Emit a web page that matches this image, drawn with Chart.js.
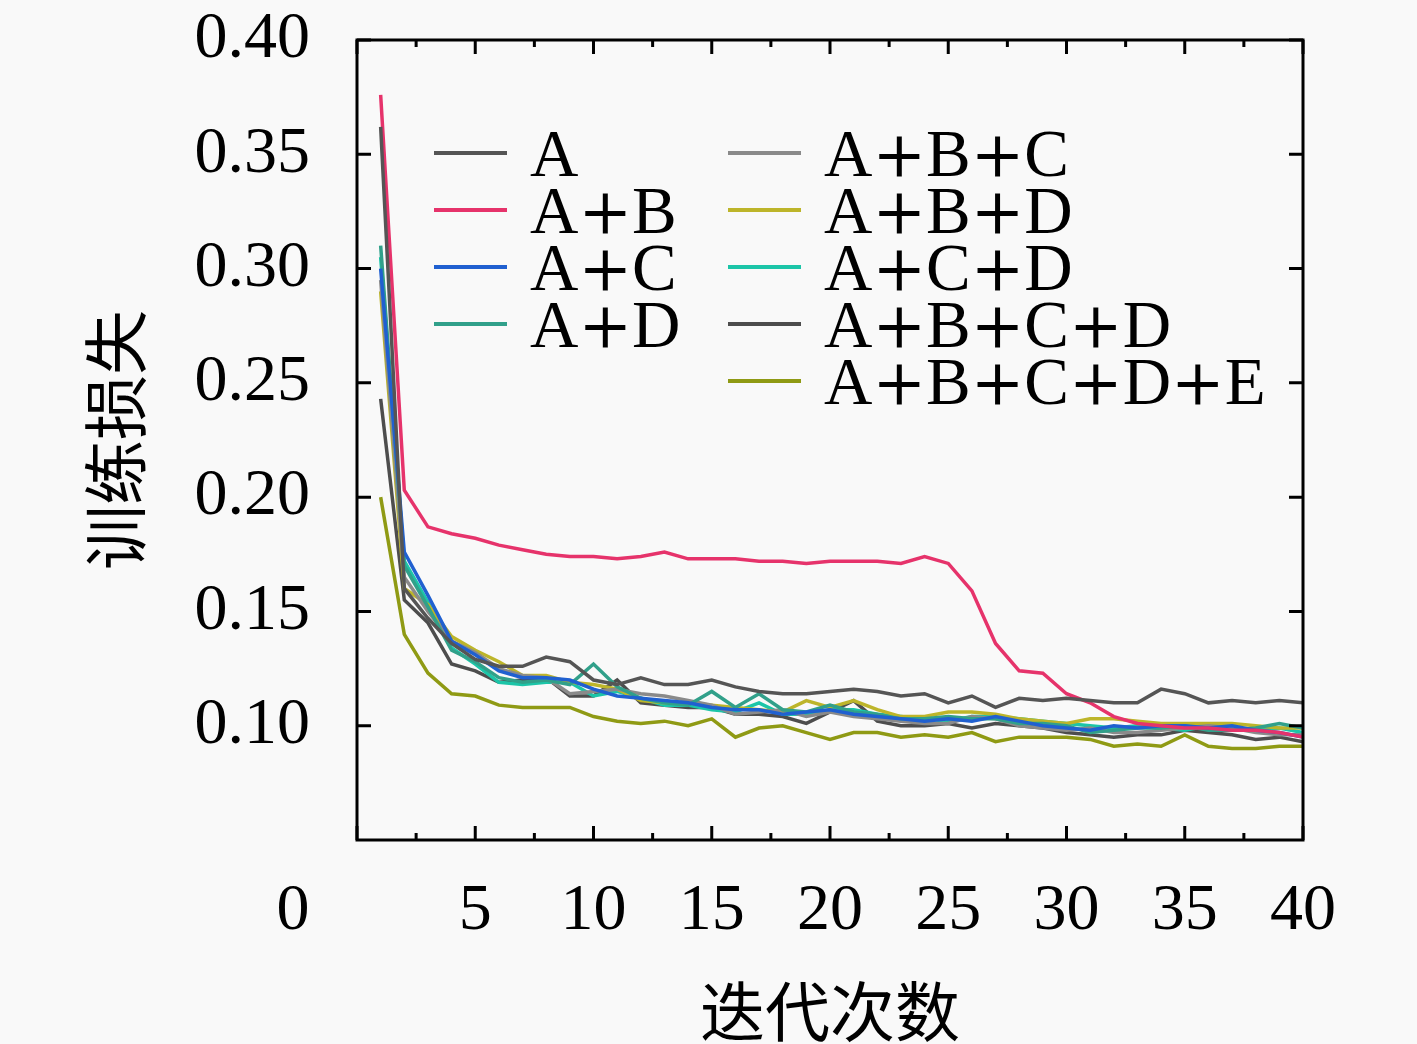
<!DOCTYPE html>
<html lang="zh">
<head>
<meta charset="utf-8">
<title>训练损失</title>
<script src="https://cdn.jsdelivr.net/npm/chart.js"></script>
<style>
  html, body { margin: 0; padding: 0; background: #f9f9f9; }
  #wrap { position: relative; width: 1417px; height: 1044px; }
  #legend { position: absolute; left: 0; top: 0; font-family: "Liberation Serif", serif; font-size: 67px; color: #000; }
  .item { position: absolute; display: flex; align-items: center; height: 66px; line-height: 66px; white-space: nowrap; }
  .swatch { width: 73px; height: 3.5px; margin-right: 23px; }
  .op { font-family: "DejaVu Serif", serif; font-size: 64px; }
</style>
</head>
<body>
<div id="wrap">
  <canvas id="myChart" width="1417" height="1044"></canvas>
  <div id="legend"></div>
</div>
<script>
const epochs = [1, 2, 3, 4, 5, 6, 7, 8, 9, 10, 11, 12, 13, 14, 15, 16, 17, 18, 19, 20,
  21, 22, 23, 24, 25, 26, 27, 28, 29, 30, 31, 32, 33, 34, 35, 36, 37, 38, 39, 40];

const seriesA = [0.362, 0.160, 0.147, 0.136, 0.129, 0.126, 0.126, 0.130, 0.128, 0.120,
  0.118, 0.121, 0.118, 0.118, 0.120, 0.117, 0.115, 0.114, 0.114, 0.115,
  0.116, 0.115, 0.113, 0.114, 0.110, 0.113, 0.108, 0.112, 0.111, 0.112,
  0.111, 0.110, 0.110, 0.116, 0.114, 0.110, 0.111, 0.110, 0.111, 0.110];
const seriesAB = [0.376, 0.203, 0.187, 0.184, 0.182, 0.179, 0.177, 0.175, 0.174, 0.174,
  0.173, 0.174, 0.176, 0.173, 0.173, 0.173, 0.172, 0.172, 0.171, 0.172,
  0.172, 0.172, 0.171, 0.174, 0.171, 0.159, 0.136, 0.124, 0.123, 0.114,
  0.110, 0.104, 0.101, 0.100, 0.099, 0.099, 0.098, 0.098, 0.097, 0.095];
const seriesAC = [0.300, 0.176, 0.157, 0.137, 0.131, 0.124, 0.121, 0.121, 0.120, 0.116,
  0.113, 0.112, 0.111, 0.110, 0.108, 0.107, 0.107, 0.105, 0.106, 0.107,
  0.105, 0.104, 0.103, 0.102, 0.103, 0.102, 0.104, 0.102, 0.100, 0.099,
  0.098, 0.100, 0.099, 0.100, 0.100, 0.099, 0.100, 0.098, 0.097, 0.095];
const seriesAD = [0.310, 0.170, 0.152, 0.133, 0.128, 0.121, 0.119, 0.120, 0.118, 0.127,
  0.117, 0.112, 0.110, 0.109, 0.115, 0.108, 0.114, 0.107, 0.106, 0.109,
  0.106, 0.105, 0.103, 0.103, 0.104, 0.103, 0.103, 0.101, 0.101, 0.100,
  0.097, 0.098, 0.099, 0.099, 0.100, 0.098, 0.098, 0.099, 0.101, 0.099];
const seriesABC = [0.295, 0.165, 0.150, 0.137, 0.132, 0.125, 0.122, 0.121, 0.114, 0.115,
  0.116, 0.114, 0.113, 0.111, 0.109, 0.105, 0.106, 0.107, 0.104, 0.106,
  0.104, 0.103, 0.102, 0.101, 0.101, 0.104, 0.103, 0.100, 0.099, 0.098,
  0.099, 0.097, 0.097, 0.098, 0.099, 0.100, 0.099, 0.097, 0.096, 0.096];
const seriesABD = [0.290, 0.160, 0.153, 0.139, 0.133, 0.128, 0.122, 0.122, 0.119, 0.118,
  0.116, 0.111, 0.110, 0.110, 0.109, 0.108, 0.107, 0.106, 0.111, 0.108,
  0.111, 0.107, 0.104, 0.104, 0.106, 0.106, 0.105, 0.103, 0.102, 0.101,
  0.103, 0.103, 0.102, 0.101, 0.101, 0.101, 0.101, 0.100, 0.099, 0.099];
const seriesACD = [0.305, 0.172, 0.154, 0.134, 0.127, 0.119, 0.118, 0.119, 0.119, 0.113,
  0.115, 0.112, 0.109, 0.109, 0.107, 0.106, 0.110, 0.105, 0.105, 0.107,
  0.107, 0.105, 0.104, 0.103, 0.102, 0.104, 0.104, 0.103, 0.102, 0.101,
  0.100, 0.099, 0.100, 0.099, 0.098, 0.100, 0.099, 0.098, 0.099, 0.097];
const seriesABCD = [0.243, 0.155, 0.145, 0.127, 0.124, 0.119, 0.120, 0.121, 0.113, 0.113,
  0.120, 0.110, 0.109, 0.108, 0.108, 0.105, 0.105, 0.104, 0.101, 0.106,
  0.111, 0.102, 0.100, 0.100, 0.101, 0.099, 0.101, 0.100, 0.099, 0.097,
  0.096, 0.095, 0.096, 0.096, 0.098, 0.097, 0.096, 0.094, 0.095, 0.093];
const seriesABCDE = [0.200, 0.140, 0.123, 0.114, 0.113, 0.109, 0.108, 0.108, 0.108, 0.104,
  0.102, 0.101, 0.102, 0.100, 0.103, 0.095, 0.099, 0.100, 0.097, 0.094,
  0.097, 0.097, 0.095, 0.096, 0.095, 0.097, 0.093, 0.095, 0.095, 0.095,
  0.094, 0.091, 0.092, 0.091, 0.096, 0.091, 0.090, 0.090, 0.091, 0.091];

const seriesNames = ["A", "A+B", "A+C", "A+D", "A+B+C", "A+B+D", "A+C+D", "A+B+C+D", "A+B+C+D+E"];
const seriesValues = [seriesA, seriesAB, seriesAC, seriesAD, seriesABC, seriesABD, seriesACD, seriesABCD, seriesABCDE];
const seriesColors = ["#555555", "#e6336b", "#2060d0", "#31a08a", "#8a8a8a", "#bdb52a", "#1cc5a8", "#4d4d4d", "#8f9a14"];

const xTickValues = [0, 2.5, 5, 7.5, 10, 12.5, 15, 17.5, 20, 22.5, 25, 27.5, 30, 32.5, 35, 37.5, 40];
const xTickLabels = ["0", "", "5", "", "10", "", "15", "", "20", "", "25", "", "30", "", "35", "", "40"];
const yTickValues = [0.10, 0.15, 0.20, 0.25, 0.30, 0.35, 0.40];
const yTickLabels = ["0.10", "0.15", "0.20", "0.25", "0.30", "0.35", "0.40"];

const tickFont = { family: "'Liberation Serif', serif", size: 66, lineHeight: 1.2 };
const titleFont = { family: "'Noto Sans CJK SC', sans-serif", size: 65, lineHeight: 1 };
const xLabelPad = 32;

// frame, inward ticks on all four sides, and the "0" label pushed left
const frameTicks = {
  id: "frameTicks",
  afterDraw(chart) {
    const { ctx, chartArea: a } = chart;
    const xs = chart.scales.x;
    const ys = chart.scales.y;
    ctx.save();
    ctx.strokeStyle = "#000";
    ctx.lineWidth = 3;
    ctx.beginPath();
    xTickValues.forEach((v, i) => {
      const px = xs.getPixelForValue(v);
      const len = xTickLabels[i] === "" ? 7 : 14;
      ctx.moveTo(px, a.bottom);
      ctx.lineTo(px, a.bottom - len);
      ctx.moveTo(px, a.top);
      ctx.lineTo(px, a.top + len);
    });
    yTickValues.forEach((v) => {
      const py = ys.getPixelForValue(v);
      ctx.moveTo(a.left, py);
      ctx.lineTo(a.left + 14, py);
      ctx.moveTo(a.right, py);
      ctx.lineTo(a.right - 14, py);
    });
    ctx.stroke();
    ctx.strokeRect(a.left, a.top, a.right - a.left, a.bottom - a.top);

    ctx.fillStyle = "#000";
    ctx.font = tickFont.size + "px " + tickFont.family;
    ctx.textAlign = "center";
    ctx.textBaseline = "middle";
    ctx.fillText(xTickLabels[0], xs.getPixelForValue(0) - 64, xs.top + xLabelPad + tickFont.size * tickFont.lineHeight / 2);
    ctx.restore();
  },
};

const datasets = seriesNames.map((name, i) => ({
  label: name,
  data: epochs.map((e, j) => ({ x: e, y: seriesValues[i][j] })),
  borderColor: seriesColors[i],
  backgroundColor: seriesColors[i],
  borderWidth: 3.5,
  pointRadius: 0,
  tension: 0,
  fill: false,
}));

const ctx = document.getElementById("myChart").getContext("2d");
const myChart = new Chart(ctx, {
  type: "line",
  data: { datasets: datasets },
  options: {
    responsive: false,
    animation: false,
    layout: { padding: { top: 40, right: 114, left: 0, bottom: 0 } },
    plugins: { legend: { display: false }, tooltip: { enabled: false } },
    scales: {
      x: {
        type: "linear",
        min: 0,
        max: 40,
        grid: { display: false, drawTicks: false },
        border: { display: false },
        afterBuildTicks: (scale) => {
          scale.ticks = xTickValues.map((v) => ({ value: v }));
        },
        afterFit: (scale) => {
          scale.height = 204;
        },
        ticks: {
          autoSkip: false,
          maxRotation: 0,
          padding: xLabelPad,
          color: "#000",
          font: tickFont,
          callback: (v, i) => (i === 0 ? "" : xTickLabels[i]),
        },
        title: { display: true, text: "迭代次数", color: "#000", font: titleFont, padding: { top: 0, bottom: 0 } },
      },
      y: {
        min: 0.05,
        max: 0.40,
        // invisible outer ticks only push the labels away from the frame
        grid: { display: true, drawOnChartArea: false, drawTicks: true, tickLength: 47, color: "rgba(0,0,0,0)" },
        border: { display: false },
        afterBuildTicks: (scale) => {
          scale.ticks = yTickValues.map((v) => ({ value: v }));
        },
        afterFit: (scale) => {
          scale.width = 357;
        },
        ticks: {
          autoSkip: false,
          padding: 0,
          color: "#000",
          font: tickFont,
          callback: (v, i) => yTickLabels[i],
        },
        title: { display: true, text: "训练损失", color: "#000", font: titleFont, padding: { top: 83, bottom: 0 } },
      },
    },
  },
  plugins: [frameTicks],
});

// two-column legend inside the plot
const legend = document.getElementById("legend");
seriesNames.forEach((name, i) => {
  const col = i < 4 ? 0 : 1;
  const row = col === 0 ? i : i - 4;
  const item = document.createElement("div");
  item.className = "item";
  item.style.left = (col === 0 ? 434 : 728) + "px";
  item.style.top = (153 - 33 + row * 57) + "px";
  const sw = document.createElement("span");
  sw.className = "swatch";
  sw.style.background = seriesColors[i];
  const txt = document.createElement("span");
  txt.innerHTML = name.split("+").join('<span class="op">+</span>');
  item.appendChild(sw);
  item.appendChild(txt);
  legend.appendChild(item);
});
</script>
</body>
</html>
